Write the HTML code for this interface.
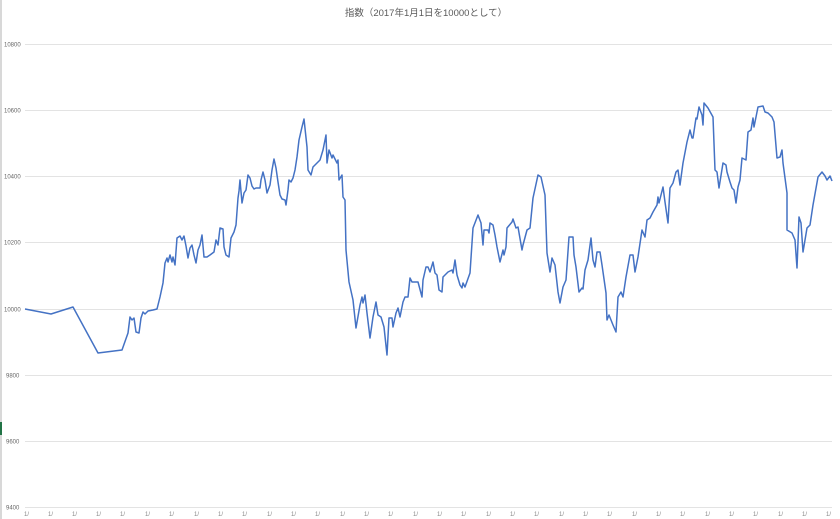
<!DOCTYPE html>
<html><head><meta charset="utf-8"><style>
html,body{margin:0;padding:0;background:#fff;width:840px;height:519px;overflow:hidden}
svg{display:block}
</style></head><body>
<svg width="840" height="519" xmlns="http://www.w3.org/2000/svg">
<rect width="840" height="519" fill="#fff"/>
<rect x="0" y="0" width="2" height="519" fill="#d8d8d8"/>
<rect x="0" y="422" width="2" height="13" fill="#217346"/>
<text x="426" y="16" text-anchor="middle" font-family="Liberation Sans, Noto Sans CJK JP, sans-serif" font-size="9.5" fill="#595959">指数（2017年1月1日を10000として）</text>
<g stroke="#e3e3e3" stroke-width="1">
<line x1="25" y1="44.5" x2="832" y2="44.5"/>
<line x1="25" y1="110.5" x2="832" y2="110.5"/>
<line x1="25" y1="176.5" x2="832" y2="176.5"/>
<line x1="25" y1="242.5" x2="832" y2="242.5"/>
<line x1="25" y1="309.5" x2="832" y2="309.5"/>
<line x1="25" y1="375.5" x2="832" y2="375.5"/>
<line x1="25" y1="441.5" x2="832" y2="441.5"/>
<line x1="25" y1="507.5" x2="832" y2="507.5"/>
</g>
<g font-family="Liberation Sans, sans-serif" font-size="6" fill="#666">
<text x="4" y="46.5">10800</text>
<text x="4" y="112.5">10600</text>
<text x="4" y="178.5">10400</text>
<text x="4" y="244.5">10200</text>
<text x="4" y="311.5">10000</text>
<text x="6" y="377.5">9800</text>
<text x="6" y="443.5">9600</text>
<text x="6" y="509.5">9400</text>
</g>
<g font-family="Liberation Sans, sans-serif" font-size="6" fill="#888">
<text x="24" y="516">1/</text><text x="48" y="516">1/</text><text x="72" y="516">1/</text><text x="96" y="516">1/</text><text x="120" y="516">1/</text><text x="145" y="516">1/</text><text x="169" y="516">1/</text><text x="194" y="516">1/</text><text x="218" y="516">1/</text><text x="242" y="516">1/</text><text x="267" y="516">1/</text><text x="291" y="516">1/</text><text x="315" y="516">1/</text><text x="340" y="516">1/</text><text x="364" y="516">1/</text><text x="388" y="516">1/</text><text x="413" y="516">1/</text><text x="437" y="516">1/</text><text x="461" y="516">1/</text><text x="486" y="516">1/</text><text x="510" y="516">1/</text><text x="534" y="516">1/</text><text x="559" y="516">1/</text><text x="583" y="516">1/</text><text x="607" y="516">1/</text><text x="632" y="516">1/</text><text x="656" y="516">1/</text><text x="680" y="516">1/</text><text x="705" y="516">1/</text><text x="729" y="516">1/</text><text x="753" y="516">1/</text><text x="778" y="516">1/</text><text x="802" y="516">1/</text><text x="826" y="516">1/</text>
</g>
<polyline fill="none" stroke="#4472c4" stroke-width="1.5" stroke-linejoin="round" points="
25,309 51,314 73,307 98,353 122,350 128,333 130,317 132,320 134,318 136,332 139,333 141,318 143,312 145,314 148,311 153,310 157,309 160,297 163,283 165,263 167,258 168,262 170,255 172,262 173,257 175,265 177,238 180,236 182,240 184,236 186,246 188,258 190,248 192,245 194,255 196,263 198,250 200,245 202,235 204,257 207,257 210,255 214,252 216,240 218,245 220,228 223,229 224,247 226,255 229,257 231,238 234,232 236,225 238,198 239,191 240,180 242,203 244,193 246,190 248,175 250,178 252,186 254,189 256,188 260,188 261,180 263,172 265,180 267,193 270,185 272,170 274,159 276,168 278,182 280,195 282,199 285,200 286,205 288,190 289,180 291,182 293,178 295,170 297,157 299,140 302,127 304,119 307,147 308,170 311,175 313,167 320,160 323,150 326,135 327,163 329,150 332,158 333,155 337,163 338,160 339,180 342,175 343,197 345,200 346,250 349,282 353,300 356,328 360,305 362,297 363,303 365,295 367,313 370,338 373,317 376,302 378,315 381,317 384,327 387,355 389,318 392,318 393,327 396,313 398,308 400,317 403,302 405,297 408,297 410,278 412,282 418,282 422,297 423,280 426,267 428,267 430,272 433,262 435,273 437,275 439,290 442,292 443,277 448,272 452,270 453,273 455,260 457,275 460,285 462,288 463,283 465,287 470,273 473,228 478,215 481,223 483,245 484,230 488,230 489,233 490,223 493,225 495,235 497,247 500,262 503,250 504,255 506,247 507,228 512,222 513,219 516,228 518,227 522,250 523,245 527,230 530,228 533,198 538,175 541,177 545,195 547,253 550,272 552,258 555,265 558,292 560,303 563,287 566,280 569,237 573,237 574,255 576,267 579,292 582,288 583,289 585,270 588,260 591,238 593,260 595,267 597,252 600,252 602,265 606,293 607,320 609,315 613,325 616,332 618,297 621,292 623,297 626,277 630,255 633,255 635,272 638,257 642,230 645,237 647,220 650,218 653,212 657,205 658,197 659,203 663,187 665,202 668,223 670,188 673,183 676,172 678,170 680,185 683,163 687,142 690,130 692,138 693,138 696,118 697,119 699,107 702,115 703,125 704,103 708,108 713,117 715,170 717,172 719,188 723,163 726,165 727,172 730,182 732,188 734,190 736,203 738,187 740,180 742,158 746,160 748,132 751,130 753,118 754,127 758,107 763,106 765,112 768,113 772,117 774,122 777,158 780,157 782,150 783,163 787,193 787,230 792,233 795,240 797,268 799,217 801,223 803,252 807,228 810,225 813,205 818,177 822,172 825,176 827,180 830,176 832,181"/>
</svg>
</body></html>
